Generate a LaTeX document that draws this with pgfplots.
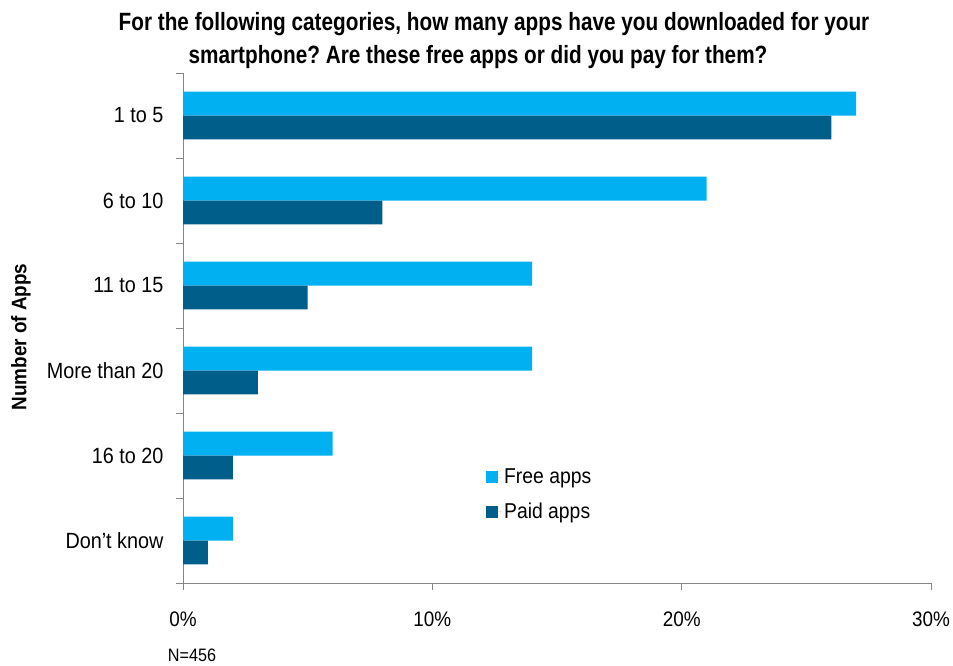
\documentclass[border=0pt]{standalone}
\usepackage{pgfplots}
\pgfplotsset{compat=1.18}
\usepackage{fontspec}
\setmainfont{Liberation Sans}[FakeStretch=0.9]
\newfontfamily\titlefont{Liberation Sans}[FakeStretch=0.83]
\definecolor{freec}{RGB}{0,176,240}
\definecolor{paidc}{RGB}{0,94,138}
\definecolor{axisgray}{RGB}{134,134,134}
\frenchspacing
\begin{document}
\begin{tikzpicture}[x=1pt,y=1pt]
\useasboundingbox (0,0) rectangle (953,665);
\begin{axis}[
  at={(183pt,82pt)}, anchor=south west,
  scale only axis, width=748pt, height=510pt,
  xmin=0, xmax=30, ymin=-0.5, ymax=5.5,
  axis x line*=bottom, axis y line*=left,
  axis line style={axisgray, line width=0.8pt},
  xtick={0,10,20,30}, xticklabels={0\%,10\%,20\%,30\%},
  x tick label style={font=\fontsize{21}{24}\selectfont, yshift=-18pt},
  tick align=outside, major tick length=7pt,
  tick style={axisgray, line width=0.8pt},
  ytick={-0.5,0.5,...,5.5}, yticklabels={},
  extra y ticks={0,1,2,3,4,5},
  extra y tick labels={Don't know,16 to 20,More than 20,11 to 15,6 to 10,1 to 5},
  extra y tick style={major tick length=0pt, tick style={draw=none}},
  y tick label style={font=\fontsize{22}{25}\selectfont, xshift=-16pt},
  xbar, bar width=0.28,
  legend style={at={(0.401,0.232)}, anchor=north west, draw=none, fill=none,
    font=\fontsize{21.5}{25}\selectfont, row sep=14pt, legend cell align=left},
  legend image code/.code={\fill[#1] (0pt,-6pt) rectangle (12pt,6pt); \path (0pt,0pt) -- (16pt,0pt);},
]
\addplot[draw=none, fill=freec, bar shift=0.14] coordinates {
 (2,0) (6,1) (14,2) (14,3) (21,4) (27,5)};
\addplot[draw=none, fill=paidc, bar shift=-0.14] coordinates {
 (1,0) (2,1) (3,2) (5,3) (8,4) (26,5)};
\legend{Free apps, Paid apps}
\end{axis}
\node[font=\titlefont\bfseries\fontsize{25}{29}\selectfont] at (494,641) {For the following categories, how many apps have you downloaded for your};
\node[font=\titlefont\bfseries\fontsize{25}{29}\selectfont] at (478,608) {smartphone? Are these free apps or did you pay for them?};
\node[font=\bfseries\fontsize{21}{24}\selectfont, rotate=90] at (21,328) {Number of Apps};
\node[font=\fontsize{18}{20}\selectfont] at (192,10) {N=456};
\end{tikzpicture}
\end{document}
